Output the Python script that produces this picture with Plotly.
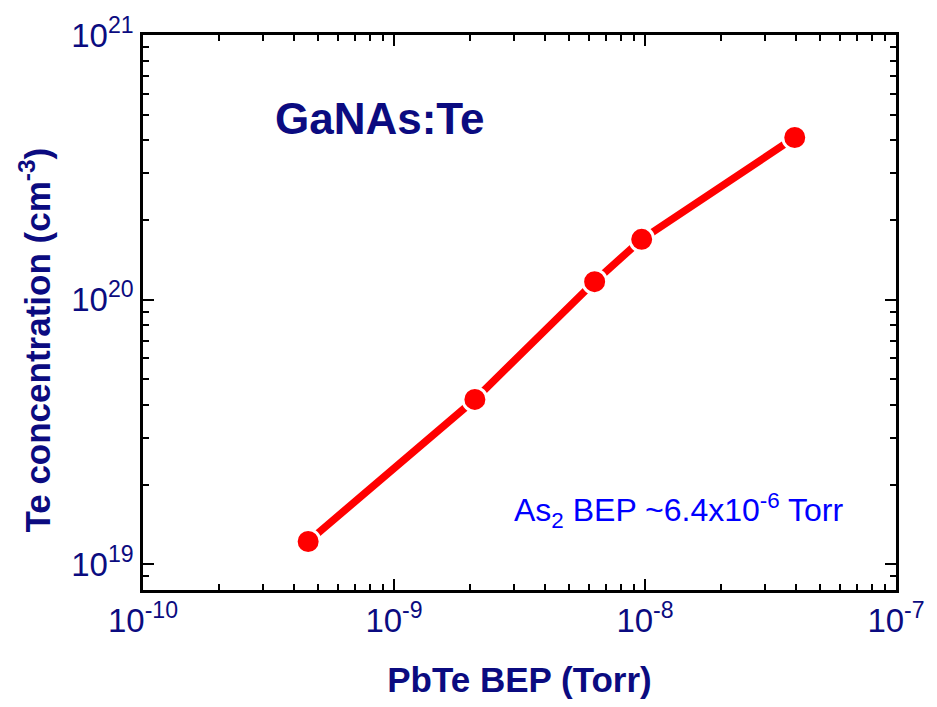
import numpy as np
import plotly.graph_objects as go

# PbTe beam equivalent pressure (Torr) and measured Te concentration (cm^-3)
pbte_bep = [4.55e-10, 2.1e-9, 6.3e-9, 9.7e-9, 3.95e-8]
te_conc = [1.22e19, 4.2e19, 1.17e20, 1.69e20, 4.1e20]

x_major = [1e-10, 1e-9, 1e-8, 1e-7]
x_labels = ["10<sup>-10</sup>", "10<sup>-9</sup>", "10<sup>-8</sup>", "10<sup>-7</sup>"]
y_major = [1e19, 1e20, 1e21]
y_labels = ["10<sup>19</sup>", "10<sup>20</sup>", "10<sup>21</sup>"]

NAVY = "#0b0b80"
FONT = "Liberation Sans, Arial, sans-serif"


def minor_ticks(lo_exp, hi_exp):
    vals = []
    for e in range(lo_exp, hi_exp):
        for m in range(2, 10):
            vals.append(m * 10.0 ** e)
    return vals


fig = go.Figure()
fig.add_trace(go.Scatter(
    x=pbte_bep, y=te_conc, mode="lines+markers",
    line=dict(color="#ff0000", width=7.5),
    marker=dict(color="#ff0000", size=24, line=dict(color="white", width=3)),
    showlegend=False,
))

axis_common = dict(
    type="log", showgrid=False, zeroline=False,
    showline=True, linecolor="black", linewidth=2.5, mirror="allticks",
    ticks="inside", ticklen=11, tickwidth=2, tickcolor="black",
    tickfont=dict(family=FONT, size=33, color=NAVY),
)

fig.update_xaxes(
    **axis_common,
    range=[-10, -7],
    tickvals=x_major, ticktext=x_labels,
    minor=dict(ticks="inside", ticklen=6, tickwidth=2, tickcolor="black",
               tickvals=minor_ticks(-10, -7), showgrid=False),
    title=dict(text="<b>PbTe BEP (Torr)</b>", standoff=30,
               font=dict(family=FONT, size=35, color=NAVY)),
)
fig.update_yaxes(
    **axis_common,
    range=[np.log10(8.0e18), 21],
    tickvals=y_major, ticktext=y_labels,
    minor=dict(ticks="inside", ticklen=6, tickwidth=2, tickcolor="black",
               tickvals=minor_ticks(18, 21), showgrid=False),
)

# vertical axis title, placed slightly below the centre of the frame
fig.add_annotation(
    x=-0.143, y=0.45, xref="paper", yref="paper", xanchor="center", yanchor="middle",
    text="<b>Te concentration (cm<sup>-3</sup>)</b>", showarrow=False, textangle=-90,
    font=dict(family=FONT, size=35, color=NAVY),
)
fig.add_annotation(
    x=0.314, y=0.85, xref="paper", yref="paper", xanchor="center", yanchor="middle",
    text="<b>GaNAs:Te</b>", showarrow=False,
    font=dict(family=FONT, size=44, color=NAVY),
)
fig.add_annotation(
    x=0.711, y=0.143, xref="paper", yref="paper", xanchor="center", yanchor="middle",
    text="As<sub>2</sub> BEP ~6.4x10<sup>-6</sup> Torr", showarrow=False,
    font=dict(family=FONT, size=32, color="#0000ff"),
)

fig.update_layout(
    width=937, height=707,
    margin=dict(l=143, r=32, t=30, b=117),
    paper_bgcolor="white", plot_bgcolor="white",
)

fig.write_html("out.html")
